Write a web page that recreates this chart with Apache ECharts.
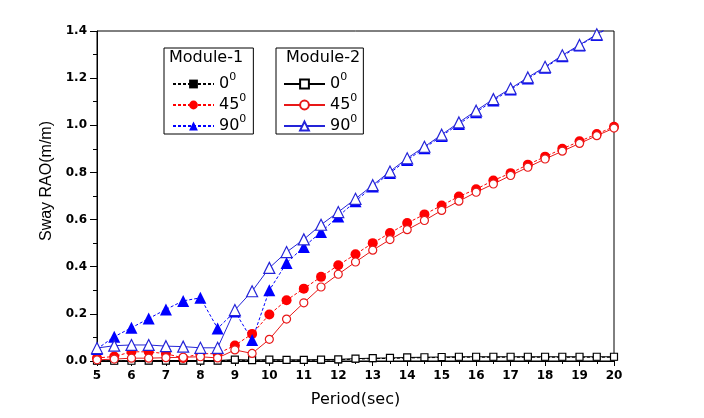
<!DOCTYPE html>
<html>
<head>
<meta charset="utf-8">
<script src="https://cdn.jsdelivr.net/npm/echarts@6/dist/echarts.min.js"></script>
<style>
html,body{margin:0;padding:0;background:#fff;}
#chart{width:704px;height:418px;}
</style>
</head>
<body>
<div id="chart"></div>
<script>
// ---- Data ----
var periods = [5, 5.5, 6, 6.5, 7, 7.5, 8, 8.5, 9, 9.5, 10, 10.5, 11, 11.5, 12, 12.5, 13, 13.5, 14, 14.5, 15, 15.5, 16, 16.5, 17, 17.5, 18, 18.5, 19, 19.5, 20];

var m1_0  = [0.000, 0.000, 0.001, 0.001, 0.001, 0.001, 0.001, 0.001, 0.003, 0.002, 0.004, 0.003, 0.003, 0.004, 0.005, 0.008, 0.010, 0.011, 0.013, 0.014, 0.015, 0.016, 0.016, 0.016, 0.016, 0.016, 0.016, 0.016, 0.016, 0.016, 0.016];
var m1_45 = [0.013, 0.019, 0.039, 0.039, 0.031, 0.013, 0.031, 0.031, 0.066, 0.115, 0.197, 0.258, 0.307, 0.357, 0.406, 0.453, 0.500, 0.543, 0.585, 0.622, 0.660, 0.698, 0.729, 0.766, 0.797, 0.833, 0.867, 0.900, 0.932, 0.963, 0.994];
var m1_90 = [0.051, 0.103, 0.141, 0.180, 0.219, 0.255, 0.268, 0.138, 0.210, 0.089, 0.300, 0.416, 0.484, 0.547, 0.613, 0.678, 0.740, 0.798, 0.853, 0.903, 0.955, 1.005, 1.055, 1.105, 1.152, 1.198, 1.244, 1.293, 1.338, 1.383, 1.430];
var m2_0  = [0.001, 0.001, 0.001, 0.002, 0.002, 0.002, 0.002, 0.002, 0.006, 0.004, 0.006, 0.005, 0.005, 0.006, 0.007, 0.010, 0.012, 0.013, 0.015, 0.016, 0.017, 0.018, 0.018, 0.018, 0.018, 0.018, 0.018, 0.018, 0.018, 0.018, 0.018];
var m2_45 = [0.005, 0.008, 0.012, 0.012, 0.014, 0.016, 0.018, 0.013, 0.047, 0.032, 0.092, 0.178, 0.247, 0.314, 0.368, 0.420, 0.470, 0.515, 0.557, 0.596, 0.639, 0.678, 0.716, 0.751, 0.787, 0.822, 0.857, 0.890, 0.923, 0.956, 0.988];
var m2_90 = [0.055, 0.065, 0.068, 0.068, 0.063, 0.061, 0.056, 0.056, 0.216, 0.296, 0.395, 0.462, 0.516, 0.578, 0.632, 0.688, 0.746, 0.804, 0.860, 0.909, 0.960, 1.012, 1.062, 1.111, 1.156, 1.203, 1.248, 1.297, 1.341, 1.386, 1.432];

var legendNames1 = ['M1 0', 'M1 45', 'M1 90'];
var legendNames2 = ['M2 0', 'M2 45', 'M2 90'];
var legendAngles = {'M1 0': '0', 'M1 45': '45', 'M1 90': '90', 'M2 0': '0', 'M2 45': '45', 'M2 90': '90'};
var moduleTitles = ['Module-1', 'Module-2'];

function pairs(arr) {
  return periods.map(function (p, i) { return [p, arr[i]]; });
}

var FONT = '"DejaVu Sans", "Liberation Sans", Arial, sans-serif';
var FONT_L = '"Liberation Sans", Arial, sans-serif';
var BLUE = '#0000ff';
var BLUE2 = '#2424d8';
var RED = '#ff0000';
var RED2 = '#e81818';

function mk(name, data, symbol, size, color, dashed, empty) {
  return {
    name: name,
    type: 'line',
    data: pairs(data),
    symbol: symbol,
    symbolSize: size,
    showSymbol: true,
    clip: true,
    lineStyle: { color: color, width: 1, type: dashed ? [3, 2] : 'solid' },
    itemStyle: empty ? { color: '#ffffff', borderColor: color, borderWidth: 1.2 } : { color: color, borderWidth: 0 },
    emphasis: { disabled: true }
  };
}

var legendCommon = {
  orient: 'vertical',
  top: 48,
  itemWidth: 41,
  itemHeight: 11,
  itemGap: 1,
  selectedMode: false,
  borderColor: '#000',
  borderWidth: 1,
  borderRadius: 0,
  formatter: function (name) { return '{n|' + legendAngles[name] + '}{s|0}'; },
  textStyle: {
    color: '#000',
    fontFamily: FONT,
    rich: {
      n: { fontSize: 16, fontFamily: FONT, color: '#000', lineHeight: 16, verticalAlign: 'bottom' },
      s: { fontSize: 11, fontFamily: FONT, color: '#000', lineHeight: 11, verticalAlign: 'bottom', padding: [0, 0, 9, 0] }
    }
  }
};

var chart = echarts.init(document.getElementById('chart'), null, { renderer: 'canvas' });
chart.setOption({
  animation: false,
  backgroundColor: '#fff',
  grid: { left: 97, right: 90, top: 31, bottom: 57, show: true, borderColor: '#000', borderWidth: 1, backgroundColor: 'transparent' },
  xAxis: {
    type: 'value', min: 5, max: 20, interval: 1,
    name: 'Period(sec)', nameLocation: 'middle', nameGap: 31,
    nameTextStyle: { fontSize: 16, fontFamily: FONT, color: '#000' },
    axisLine: { lineStyle: { color: '#000', width: 1 } },
    axisTick: { show: true, length: 5, lineStyle: { color: '#000' } },
    minorTick: { show: true, splitNumber: 2, length: 3, lineStyle: { color: '#000' } },
    splitLine: { show: false },
    axisLabel: { fontSize: 12, fontWeight: 'bold', fontFamily: FONT, color: '#000', margin: 9 }
  },
  yAxis: {
    type: 'value', min: 0, max: 1.4, interval: 0.2,
    name: 'Sway RAO(m/m)', nameLocation: 'middle', nameGap: 36,
    nameTextStyle: { fontSize: 16, fontFamily: FONT_L, color: '#000', padding: [0, 0, 0, 30] },
    axisLine: { show: true, lineStyle: { color: '#000', width: 1 } },
    axisTick: { show: true, length: 7, lineStyle: { color: '#000' } },
    minorTick: { show: true, splitNumber: 2, length: 4, lineStyle: { color: '#000' } },
    splitLine: { show: false },
    axisLabel: { fontSize: 12, fontWeight: 'bold', fontFamily: FONT, color: '#000', margin: 10,
      formatter: function (v) { return v.toFixed(1); } }
  },
  legend: [
    Object.assign({}, legendCommon, { left: 164, data: legendNames1, padding: [24, 7, 0, 8] }),
    Object.assign({}, legendCommon, { left: 276, data: legendNames2, padding: [24, 6, 0, 7] })
  ],
  graphic: [
    { type: 'text', left: 169, top: 50, style: { text: moduleTitles[0], fontSize: 16, fontFamily: FONT, fill: '#000' } },
    { type: 'text', left: 286, top: 50, style: { text: moduleTitles[1], fontSize: 16, fontFamily: FONT, fill: '#000' } }
  ],
  series: [
    mk('M1 0', m1_0, 'rect', 7, '#000000', true, false),
    mk('M2 0', m2_0, 'rect', 7, '#000000', false, true),
    mk('M1 45', m1_45, 'circle', 10, RED, true, false),
    mk('M2 45', m2_45, 'circle', 8, RED2, false, true),
    mk('M1 90', m1_90, 'triangle', 12, BLUE, true, false),
    mk('M2 90', m2_90, 'triangle', 11, BLUE2, false, true)
  ]
});
</script>
</body>
</html>
